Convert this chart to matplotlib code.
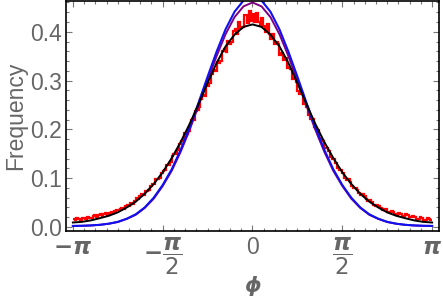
import numpy as np
import matplotlib
matplotlib.use("Agg")
import matplotlib.pyplot as plt
from matplotlib.ticker import MultipleLocator

# ---- data -----------------------------------------------------------------
# histogram of simulated phi, 200 bins over [-pi, pi]
red_left = [0.017, 0.014, 0.018, 0.016, 0.015, 0.019, 0.019, 0.017, 0.021, 0.019,
            0.018, 0.022, 0.024, 0.021, 0.024, 0.026, 0.023, 0.026, 0.028, 0.025,
            0.029, 0.031, 0.028, 0.033, 0.035, 0.034, 0.037, 0.039, 0.037, 0.042,
            0.045, 0.044, 0.050, 0.048, 0.054, 0.059, 0.057, 0.064, 0.067, 0.066,
            0.074, 0.073, 0.076, 0.085, 0.088, 0.089, 0.099, 0.098, 0.100, 0.111,
            0.115, 0.116, 0.128, 0.128, 0.133, 0.146, 0.150, 0.149, 0.157, 0.171,
            0.176, 0.176, 0.192, 0.191, 0.197, 0.212, 0.219, 0.219, 0.238, 0.239,
            0.245, 0.262, 0.271, 0.269, 0.290, 0.289, 0.295, 0.314, 0.321, 0.319,
            0.339, 0.336, 0.341, 0.360, 0.365, 0.359, 0.382, 0.375, 0.378, 0.401,
            0.405, 0.396, 0.420, 0.408, 0.410, 0.435, 0.435, 0.417, 0.442, 0.422]
red_right = [0.436, 0.419, 0.439, 0.421, 0.412, 0.429, 0.411, 0.400, 0.416, 0.396,
             0.385, 0.395, 0.374, 0.378, 0.374, 0.352, 0.357, 0.343, 0.346, 0.326,
             0.327, 0.323, 0.303, 0.305, 0.297, 0.279, 0.273, 0.273, 0.253, 0.253,
             0.246, 0.229, 0.221, 0.221, 0.204, 0.203, 0.198, 0.183, 0.178, 0.177,
             0.162, 0.162, 0.155, 0.144, 0.140, 0.139, 0.132, 0.121, 0.117, 0.116,
             0.111, 0.101, 0.097, 0.098, 0.093, 0.084, 0.080, 0.080, 0.076, 0.069,
             0.066, 0.067, 0.064, 0.057, 0.054, 0.055, 0.052, 0.046, 0.043, 0.045,
             0.043, 0.038, 0.035, 0.037, 0.036, 0.031, 0.031, 0.032, 0.031, 0.026,
             0.025, 0.028, 0.026, 0.022, 0.022, 0.026, 0.024, 0.020, 0.020, 0.022,
             0.021, 0.017, 0.017, 0.020, 0.019, 0.015, 0.015, 0.018, 0.017, 0.014]

# smooth curves, sampled at k*pi/20 for k = 0..20 (symmetric about 0)
black_half = [0.415, 0.410, 0.394, 0.370, 0.336, 0.295, 0.252, 0.211, 0.174, 0.141,
              0.112, 0.088, 0.068, 0.052, 0.040, 0.030, 0.023, 0.018, 0.0135, 0.0105,
              0.0092]
blue_half = [0.472, 0.464, 0.441, 0.405, 0.359, 0.308, 0.255, 0.204, 0.158, 0.118,
             0.086, 0.060, 0.040, 0.026, 0.017, 0.0105, 0.0068, 0.0045, 0.0032, 0.0025,
             0.0022]
purple_half = [0.460, 0.452, 0.430, 0.395, 0.350, 0.300, 0.249, 0.199, 0.154, 0.115,
               0.084, 0.058, 0.039, 0.025, 0.0165, 0.0102, 0.0066, 0.0044, 0.0031, 0.0024,
               0.0021]

xtick_labels = [r"$\boldsymbol{-\pi}$", r"$\boldsymbol{-}\dfrac{\boldsymbol{\pi}}{2}$", "0",
                r"$\dfrac{\boldsymbol{\pi}}{2}$", r"$\boldsymbol{\pi}$"]

# ---- plot -----------------------------------------------------------------
plt.rcParams["font.family"] = ["Liberation Sans", "DejaVu Sans"]
plt.rcParams["mathtext.fontset"] = "dejavusans"
gray = "#666666"

fig = plt.figure(figsize=(4.43, 2.99), dpi=100)
ax = fig.add_axes([66 / 443, 1 - 230.7 / 299, 373 / 443, 229.7 / 299])

edges = np.linspace(-np.pi, np.pi, len(red_left) + len(red_right) + 1)
ax.stairs(np.array(red_left + red_right), edges, baseline=None, color="#ff0000", lw=1.6)

phi_half = np.linspace(0, np.pi, len(black_half))
phi = np.concatenate([-phi_half[::-1], phi_half[1:]])


def mirror(v):
    v = np.array(v)
    return np.concatenate([v[::-1], v[1:]])


ax.plot(phi, mirror(purple_half), color=(0.5, 0.0, 0.5), lw=1.4)
ax.plot(phi, mirror(blue_half), color="#1010f0", lw=1.5)
ax.plot(phi, mirror(black_half), color="black", lw=1.4)

ax.set_xlim(-np.pi - 0.12, np.pi + 0.12)
ax.set_ylim(-0.0076, 0.463)

ax.set_xticks([-np.pi, -np.pi / 2, 0, np.pi / 2, np.pi])
ax.set_xticklabels(xtick_labels)
ax.xaxis.set_minor_locator(MultipleLocator(np.pi / 16))
ax.set_yticks([0.0, 0.1, 0.2, 0.3, 0.4])
ax.set_yticklabels(["0.0", "0.1", "0.2", "0.3", "0.4"])
ax.yaxis.set_minor_locator(MultipleLocator(0.02))

ax.tick_params(which="both", direction="in", top=True, right=True, color="#777777",
               width=0.8, labelcolor=gray, labelsize=16.5)
ax.tick_params(which="major", length=4.5)
ax.tick_params(which="minor", length=2.5)
ax.tick_params(axis="x", pad=4)
ax.tick_params(axis="y", pad=3)

for s in ax.spines.values():
    s.set_linewidth(1.2)
    s.set_color("black")

ax.set_ylabel("Frequency", fontsize=16.5, color=gray)
ax.yaxis.set_label_coords(-0.105, 0.5)
ax.set_xlabel(r"$\boldsymbol{\phi}$", fontsize=15, color=gray)
ax.xaxis.set_label_coords(0.5, -0.185)

fig.savefig("out.png", dpi=100)
